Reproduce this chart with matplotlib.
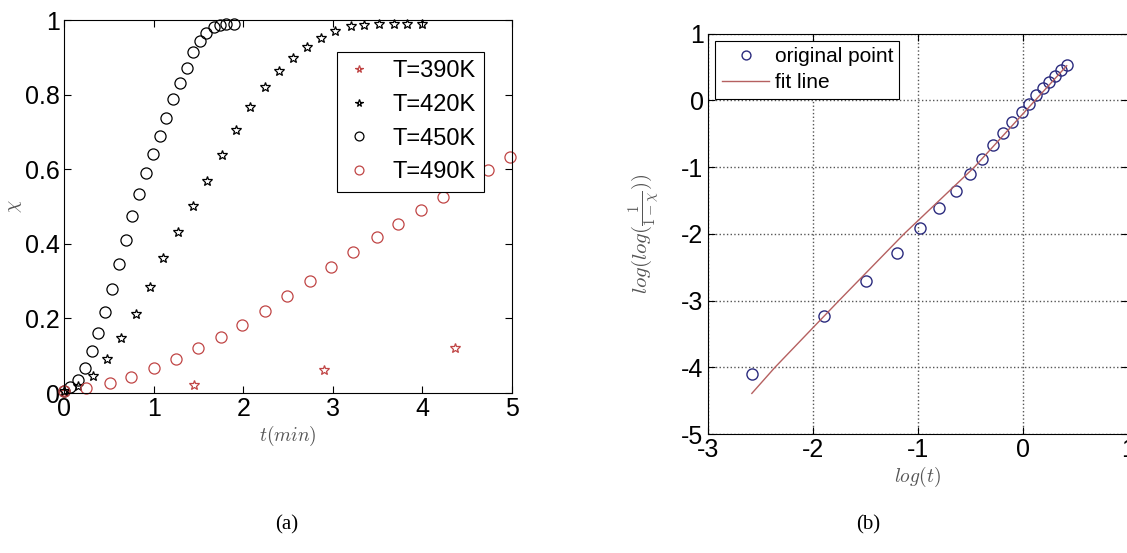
import matplotlib
matplotlib.use('Agg')
import matplotlib.pyplot as plt
import numpy as np

#---- style ----#
plt.rcParams['font.family'] = ['Liberation Sans', 'DejaVu Sans']
plt.rcParams['mathtext.fontset'] = 'cm'
plt.rcParams['axes.unicode_minus'] = False

#---- data, panel (a): conversion vs time ----#
t_390 = [0.0, 1.45, 2.90, 4.36]
x_390 = [0.003, 0.021, 0.062, 0.121]

t_420 = [0.0, 0.16, 0.32, 0.48, 0.64, 0.80, 0.96, 1.11, 1.27, 1.44, 1.60, 1.76,
         1.92, 2.08, 2.24, 2.40, 2.56, 2.71, 2.87, 3.03, 3.20, 3.35, 3.52, 3.68,
         3.83, 3.99]
x_420 = [0.005, 0.020, 0.046, 0.091, 0.147, 0.211, 0.285, 0.361, 0.433, 0.502,
         0.569, 0.637, 0.705, 0.767, 0.820, 0.864, 0.898, 0.929, 0.953, 0.971,
         0.983, 0.986, 0.988, 0.988, 0.988, 0.988]

t_450 = [0.0, 0.07, 0.16, 0.23, 0.31, 0.38, 0.46, 0.54, 0.61, 0.69, 0.76, 0.84,
         0.92, 0.99, 1.07, 1.14, 1.22, 1.30, 1.37, 1.44, 1.52, 1.59, 1.67, 1.74,
         1.81, 1.90]
x_450 = [0.005, 0.016, 0.036, 0.067, 0.112, 0.161, 0.217, 0.278, 0.346, 0.410,
         0.475, 0.534, 0.590, 0.640, 0.690, 0.736, 0.787, 0.831, 0.872, 0.913,
         0.943, 0.965, 0.981, 0.987, 0.988, 0.988]

t_490 = [0.0, 0.25, 0.51, 0.75, 1.00, 1.25, 1.49, 1.75, 1.99, 2.24, 2.49, 2.74,
         2.98, 3.23, 3.49, 3.73, 3.98, 4.23, 4.47, 4.73, 4.98]
x_490 = [0.005, 0.014, 0.027, 0.044, 0.067, 0.091, 0.120, 0.150, 0.182, 0.220,
         0.259, 0.300, 0.337, 0.379, 0.417, 0.452, 0.490, 0.525, 0.561, 0.597,
         0.632]

#---- data, panel (b): Avrami plot ----#
log_t = [-2.58, -1.89, -1.49, -1.20, -0.98, -0.80, -0.63, -0.50, -0.39, -0.28,
         -0.19, -0.10, -0.01, 0.06, 0.13, 0.19, 0.25, 0.31, 0.37, 0.42]
log_log = [-4.10, -3.23, -2.71, -2.28, -1.91, -1.61, -1.35, -1.10, -0.88, -0.66,
           -0.49, -0.33, -0.17, -0.05, 0.08, 0.19, 0.28, 0.36, 0.45, 0.53]
fit_x = [-2.58, -2.36, -1.75, -1.13, -0.46, 0.42]
fit_y = [-4.39, -4.0, -3.0, -2.0, -1.0, 0.52]

red = '#c04545'
navy = '#2b2b7e'
fitc = '#b56060'
lblc = '#555555'

fig = plt.figure(figsize=(11.27, 5.53), dpi=100)
ax1 = fig.add_axes([0.0568, 0.2893, 0.3975, 0.6745])
ax2 = fig.add_axes([0.628, 0.215, 0.3725, 0.724])

#---- panel (a) ----#
ax1.plot(t_390, x_390, linestyle='none', marker='*', ms=7, mfc='none', mec=red, mew=0.9, label='T=390K', clip_on=False)
ax1.plot(t_420, x_420, linestyle='none', marker='*', ms=7, mfc='none', mec='k', mew=0.9, label='T=420K', clip_on=False)
ax1.plot(t_450, x_450, linestyle='none', marker='o', ms=8, mfc='none', mec='k', mew=0.9, label='T=450K', clip_on=False)
ax1.plot(t_490, x_490, linestyle='none', marker='o', ms=8, mfc='none', mec=red, mew=0.9, label='T=490K', clip_on=False)

ax1.set_xlim(0, 5)
ax1.set_ylim(0, 1)
ax1.set_xticks([0, 1, 2, 3, 4, 5])
ax1.set_yticks([0, 0.2, 0.4, 0.6, 0.8, 1])
ax1.set_yticklabels(['0', '0.2', '0.4', '0.6', '0.8', '1'])
ax1.tick_params(direction='in', which='both', top=True, right=True, length=5, labelsize=18, pad=3)
ax1.set_xlabel(r'$t(min)$', fontsize=14, color=lblc, labelpad=2)
ax1.set_ylabel(r'$\chi$', fontsize=14, color=lblc)
ax1.yaxis.set_label_coords(-0.09, 0.5)
leg1 = ax1.legend(loc='upper right', bbox_to_anchor=(0.937, 0.915), fontsize=17, fancybox=False,
                  edgecolor='k', framealpha=1, handlelength=1.2, handletextpad=0.8,
                  labelspacing=0.5, borderpad=0.35, borderaxespad=0, markerscale=0.8)
leg1.get_frame().set_linewidth(0.8)

#---- panel (b) ----#
ax2.plot(log_t, log_log, linestyle='none', marker='o', ms=8, mfc='none', mec=navy, mew=1.0, label='original point')
ax2.plot(fit_x, fit_y, color=fitc, lw=1.0, label='fit line')

ax2.set_xlim(-3, 1)
ax2.set_ylim(-5, 1)
ax2.set_xticks([-3, -2, -1, 0, 1])
ax2.set_yticks([-5, -4, -3, -2, -1, 0, 1])
ax2.grid(True, linestyle=':', color='#555555', lw=1.0)
ax2.tick_params(direction='in', which='both', top=True, right=True, length=5, labelsize=18, pad=3)
ax2.set_xlabel(r'$log(t)$', fontsize=14, color=lblc, labelpad=2)
ax2.set_ylabel(r'$log(log(\frac{1}{1-\chi}))$', fontsize=15, color=lblc)
ax2.yaxis.set_label_coords(-0.11, 0.5)
leg2 = ax2.legend(loc='upper left', bbox_to_anchor=(0.018, 0.982), fontsize=15, fancybox=False,
                  edgecolor='k', framealpha=1, handlelength=2.3, handletextpad=0.25,
                  labelspacing=0.35, borderpad=0.3, borderaxespad=0, markerscale=0.8)
leg2.get_frame().set_linewidth(0.8)

#---- captions ----#
fig.text(0.2547, 0.05, '(a)', ha='center', va='center', fontsize=15, family='Liberation Serif')
fig.text(0.7702, 0.05, '(b)', ha='center', va='center', fontsize=15, family='Liberation Serif')

plt.savefig('out.png', dpi=100)
